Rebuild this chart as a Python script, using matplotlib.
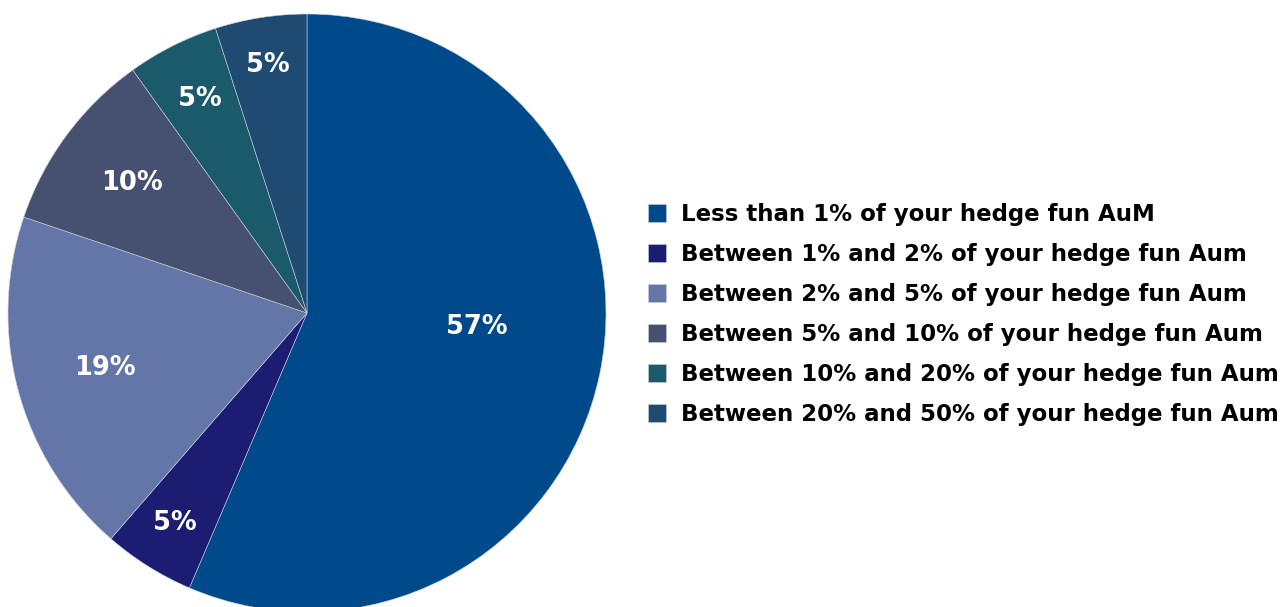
import matplotlib
matplotlib.use("Agg")
import matplotlib.pyplot as plt
import numpy as np

categories = [
    "Less than 1% of your hedge fun AuM",
    "Between 1% and 2% of your hedge fun Aum",
    "Between 2% and 5% of your hedge fun Aum",
    "Between 5% and 10% of your hedge fun Aum",
    "Between 10% and 20% of your hedge fun Aum",
    "Between 20% and 50% of your hedge fun Aum",
]
values = [57, 5, 19, 10, 5, 5]
value_labels = ["57%", "5%", "19%", "10%", "5%", "5%"]
colors = ["#004A8C", "#1C1C72", "#6476A8", "#465070", "#1B5A6A", "#1F4A72"]
label_radius = [0.57, 0.83, 0.70, 0.73, 0.80, 0.84]
label_angle_shift = [7, 0, 0, 0, 0, 0]

plt.rcParams['font.family'] = ['DejaVu Sans']

W, H = 1287, 607
fig = plt.figure(figsize=(W / 100, H / 100), dpi=100)
cx, cy, r = 307, 313, 299
ax = fig.add_axes([(cx - r) / W, (H - cy - r) / H, 2 * r / W, 2 * r / H])
wedges, _ = ax.pie(values, colors=colors, startangle=90, counterclock=False,
                   radius=1.0, wedgeprops=dict(edgecolor="#c8d0dc", linewidth=0.4))
ax.set_xlim(-1, 1)
ax.set_ylim(-1, 1)
ax.set_aspect('equal')
ax.axis('off')

for w, lab, lr, sh in zip(wedges, value_labels, label_radius, label_angle_shift):
    ang = np.deg2rad((w.theta1 + w.theta2) / 2 + sh)
    ax.text(lr * np.cos(ang), lr * np.sin(ang), lab, color="white",
            fontsize=18.5, fontweight="bold", ha="center", va="center")

leg = fig.legend(wedges, categories, loc="center left",
                 bbox_to_anchor=(648 / W, 1 - 314.5 / H), frameon=False,
                 prop=dict(size=16.5, weight="bold"), handlelength=0.79,
                 handleheight=0.79, handletextpad=0.65, labelspacing=0.74,
                 borderpad=0, borderaxespad=0)

fig.savefig("out.png", dpi=100)
